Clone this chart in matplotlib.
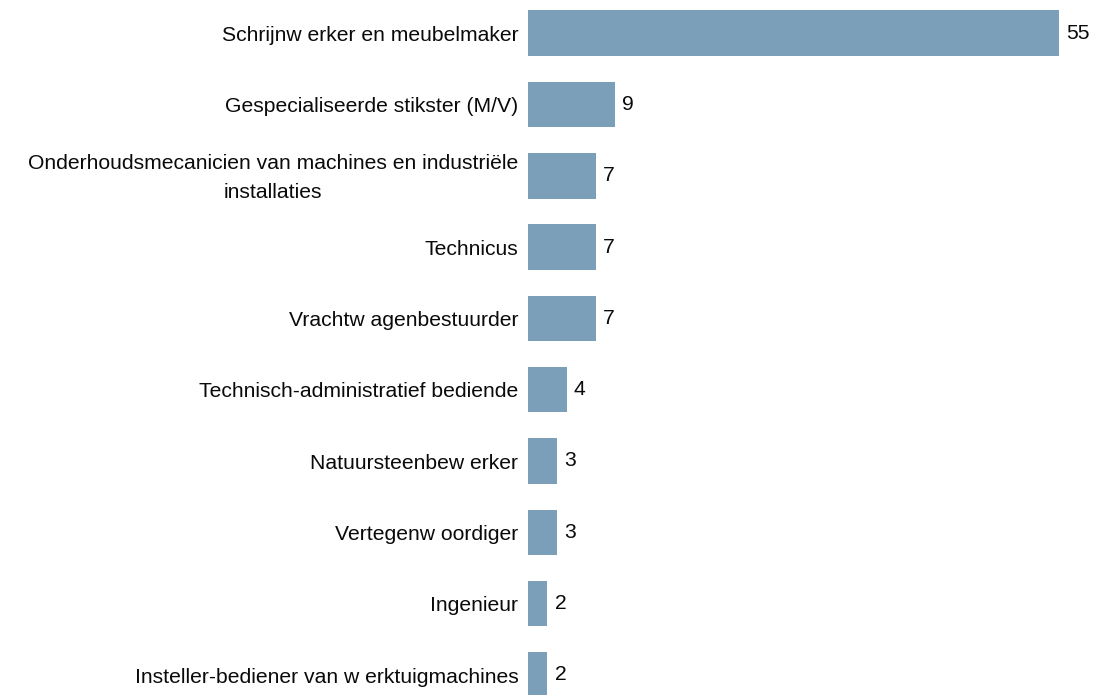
import matplotlib.pyplot as plt

plt.rcParams['font.family'] = ['Liberation Sans', 'DejaVu Sans']

beroepen = [
    "Schrijnw erker en meubelmaker",
    "Gespecialiseerde stikster (M/V)",
    "Onderhoudsmecanicien van machines en industriële\ninstallaties",
    "Technicus",
    "Vrachtw agenbestuurder",
    "Technisch-administratief bediende",
    "Natuursteenbew erker",
    "Vertegenw oordiger",
    "Ingenieur",
    "Insteller-bediener van w erktuigmachines",
]
aantallen = [55, 9, 7, 7, 7, 4, 3, 3, 2, 2]

fig = plt.figure(figsize=(10.96, 6.95), dpi=100)
# 55 eenheden = 531 px breed
ax = fig.add_axes([528 / 1096, 0, 531 / 1096, 1])

pos = list(range(len(beroepen)))
ax.barh(pos, aantallen, height=0.64, color='#7b9fb8')
ax.set_xlim(0, 55)
ax.set_ylim(9 + 20 / 71.3, -33 / 71.3)

for p, naam, v in zip(pos, beroepen, aantallen):
    ax.text(-1.0, p + 0.03, naam, ha='right', va='center', multialignment='center',
            fontsize=15.2, color='#0a0a0a', clip_on=False, linespacing=1.7)
    ax.text(v + 0.75, p, str(v), ha='left', va='center', fontsize=15.2,
            color='#0a0a0a', clip_on=False)

ax.axis('off')
fig.savefig('out.png', dpi=100)
